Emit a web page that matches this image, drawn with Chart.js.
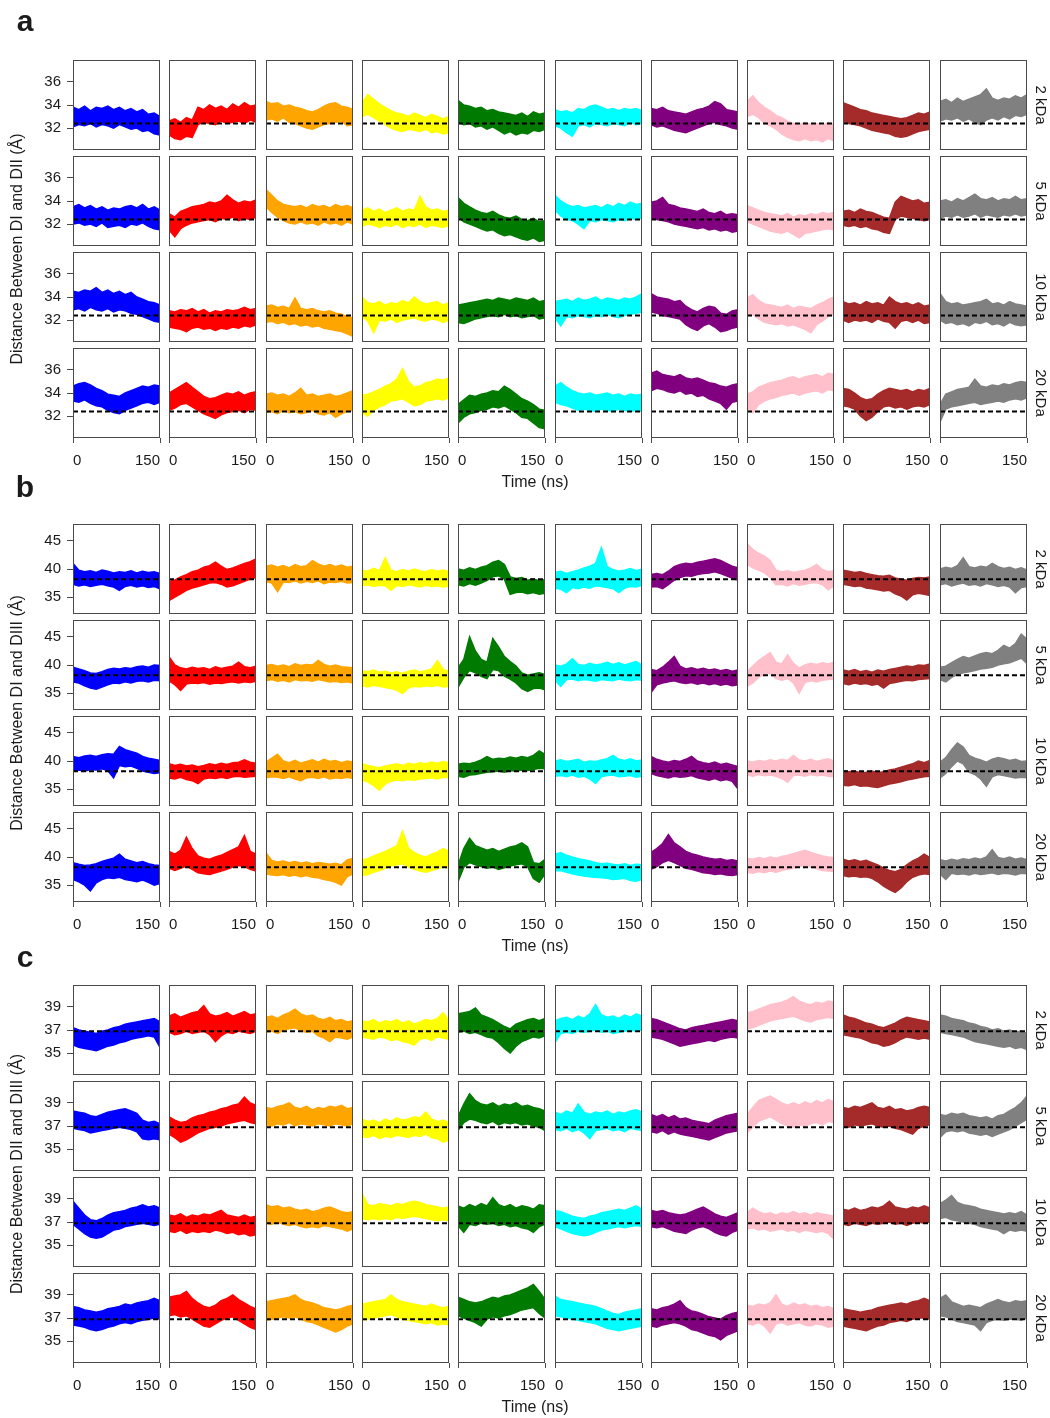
<!DOCTYPE html>
<html>
<head>
<meta charset="utf-8">
<script src="https://cdn.jsdelivr.net/npm/chart.js@4.4.1/dist/chart.umd.min.js"></script>
<style>
  body { margin: 0; width: 1050px; height: 1418px; background: #fff; position: relative; overflow: hidden;
         font-family: "Liberation Sans", Arial, sans-serif; }
  canvas { position: absolute; }
  .lbl { position: absolute; color: #1a1a1a; white-space: nowrap; line-height: 1; }
</style>
</head>
<body>
<script>
const FONT = '"Liberation Sans", Arial, sans-serif';

// ---- data ----
// each trace: 16 time bins over 0..150 ns, stored as [max0, min0, max1, min1, ...]
const seriesColors = ["#0000ff", "#ff0000", "#ffa500", "#ffff00", "#007a00",
                      "#00ffff", "#800080", "#ffc0cb", "#a52a2a", "#808080"];
const rowLabels = ["2 kDa", "5 kDa", "10 kDa", "20 kDa"];
const xTicks = [0, 150];

const aYTicks = [32, 34, 36];
const bYTicks = [35, 40, 45];
const cYTicks = [35, 37, 39];
const aRef = 32.4, bRef = 38.2, cRef = 36.9;

// panel a: distance DI-DII
const a2kDa = [
  [33.8,32.1,33.6,32.3,33.9,32.2,33.5,32.4,33.8,32.1,33.7,32.3,33.9,32.2,33.6,32.0,33.8,32.3,33.5,32.1,33.7,31.9,33.4,32.0,33.6,31.7,33.2,31.8,33.3,31.5,33.0,31.4],
  [32.6,31.4,32.8,31.1,32.5,31.0,32.9,31.3,32.7,31.2,33.8,32.3,33.6,32.5,34.0,32.4,33.7,32.3,33.9,32.6,33.6,32.4,34.1,32.5,33.8,32.6,34.2,32.4,33.9,32.7,34.0,32.5],
  [34.3,32.7,34.1,32.8,34.2,32.6,33.9,32.9,34.0,32.5,33.8,32.4,33.7,32.2,33.5,32.0,33.4,31.9,33.6,32.1,33.9,32.3,34.1,32.4,34.2,32.5,33.9,32.6,33.8,32.2,33.6,32.3],
  [34.2,33.0,34.9,33.2,34.5,32.9,34.1,32.6,33.8,32.3,33.5,32.0,33.3,31.8,33.2,31.7,33.0,31.9,33.3,31.8,33.1,31.7,32.9,31.9,33.2,31.6,33.0,31.7,32.8,31.5,33.0,31.6],
  [34.4,32.5,34.0,32.3,33.9,32.4,33.7,32.1,33.8,32.2,33.5,31.9,33.6,32.1,33.4,31.8,33.3,31.5,33.2,31.7,33.1,31.4,33.3,31.6,33.0,31.5,33.4,31.8,33.2,31.7,33.3,31.9],
  [33.6,32.2,33.4,32.0,33.5,31.6,33.3,31.3,33.7,32.2,33.6,32.3,33.9,32.1,34.0,32.4,33.8,32.3,33.6,32.2,33.7,32.4,33.5,32.3,33.7,32.2,33.6,32.5,33.7,32.3,33.5,32.4],
  [33.7,32.3,33.6,32.1,33.8,32.2,33.5,32.0,33.4,31.8,33.3,31.7,33.2,31.6,33.4,31.8,33.6,32.0,33.7,32.2,33.9,32.4,34.3,32.5,34.1,32.3,33.6,32.2,33.5,32.0,33.4,31.9],
  [34.3,33.0,34.8,33.2,34.2,32.9,33.8,32.4,33.5,32.2,33.1,31.9,32.9,31.5,32.6,31.2,32.4,31.0,32.3,30.9,32.5,31.1,32.3,30.9,32.4,31.0,32.2,30.8,32.5,31.1,32.3,30.9],
  [34.2,32.6,34.0,32.4,33.8,32.3,33.6,32.2,33.5,32.0,33.3,31.8,33.2,31.7,33.1,31.6,33.0,31.5,32.9,31.3,32.8,31.2,32.9,31.3,33.1,31.5,33.3,31.7,33.2,31.8,33.4,31.9],
  [34.3,32.6,34.5,32.8,34.2,32.7,34.6,32.9,34.3,32.6,34.5,32.8,34.7,32.5,34.9,32.3,35.4,32.7,34.6,32.9,34.4,32.7,34.6,33.0,34.5,32.8,34.8,33.1,34.6,33.0,34.9,33.2]
];
const a5kDa = [
  [33.5,32.0,33.7,32.1,33.4,31.9,33.6,32.0,33.3,31.8,33.5,32.1,33.2,31.7,33.4,31.8,33.3,31.9,33.5,31.7,33.6,32.0,33.4,31.9,33.7,32.1,33.3,31.8,33.5,31.6,33.2,31.5],
  [32.9,31.5,32.6,30.9,33.1,31.6,33.3,31.9,33.5,32.1,33.6,32.2,33.7,32.3,33.9,32.4,33.8,32.2,34.0,32.5,34.5,32.4,34.1,32.6,33.8,32.3,34.0,32.5,33.9,32.4,34.1,32.6],
  [35.0,33.5,34.5,33.0,34.0,32.6,33.7,32.3,33.6,32.1,33.5,32.0,33.6,32.2,33.4,32.0,33.7,32.1,33.5,31.9,33.6,32.2,33.4,32.0,33.7,32.1,33.5,31.9,33.6,32.2,33.4,32.0],
  [33.2,31.8,33.4,32.0,33.1,31.9,33.3,31.7,33.0,31.9,33.2,31.8,33.4,32.0,33.1,31.7,33.3,31.9,33.2,31.8,34.4,32.0,33.5,31.7,33.2,31.9,33.3,31.8,33.1,31.7,33.2,31.9],
  [34.3,32.6,33.8,32.2,33.5,32.0,33.2,31.8,33.0,31.6,32.9,31.4,33.1,31.5,32.8,31.2,32.6,31.0,32.5,31.1,32.7,30.9,32.4,30.7,32.3,30.6,32.5,30.8,32.2,30.5,32.3,30.6],
  [34.5,33.2,34.0,32.7,33.7,32.4,33.5,32.3,33.6,32.0,33.4,31.6,33.5,32.3,33.6,32.2,33.4,32.4,33.7,32.3,33.5,32.2,33.8,32.4,33.6,32.3,33.9,32.5,33.7,32.4,33.8,32.5],
  [33.9,32.5,34.0,32.4,34.3,32.3,33.7,32.2,33.6,32.0,33.4,31.9,33.3,31.8,33.2,31.7,33.1,31.6,33.3,31.7,33.0,31.5,32.9,31.6,33.1,31.4,32.8,31.5,32.9,31.3,32.8,31.4],
  [33.6,32.2,33.4,32.0,33.2,31.8,33.0,31.6,32.9,31.4,32.8,31.3,32.7,31.2,32.9,31.4,32.6,31.1,32.8,30.8,32.7,31.2,32.9,31.3,32.8,31.4,33.0,31.5,32.9,31.6,33.0,31.5],
  [33.1,31.9,33.2,31.8,33.0,31.9,33.3,31.7,33.1,31.8,33.0,31.6,32.8,31.5,32.6,31.3,32.5,31.2,33.9,32.4,34.4,32.7,34.2,32.6,34.0,32.5,34.1,32.4,33.8,32.3,33.9,32.4],
  [34.0,32.5,34.1,32.7,33.9,32.6,34.2,32.8,34.0,32.6,34.3,32.7,34.6,32.9,34.2,32.6,34.1,32.8,34.3,32.7,34.0,32.6,34.2,32.8,34.1,32.7,34.4,32.9,34.1,32.7,34.2,32.8]
];
const a10kDa = [
  [34.5,32.9,34.4,33.0,34.6,32.8,34.5,33.1,34.8,32.9,34.4,32.8,34.6,33.0,34.3,32.7,34.5,32.9,34.2,32.8,34.4,32.6,34.0,32.5,33.8,32.3,33.6,32.1,33.5,31.9,33.3,31.8],
  [32.8,31.4,32.7,31.3,32.9,31.2,32.8,31.0,33.0,31.3,32.7,31.4,32.9,31.2,32.6,31.3,32.8,31.1,32.7,31.3,32.9,31.2,32.8,31.4,32.9,31.3,33.1,31.5,32.9,31.4,33.0,31.6],
  [33.2,31.8,33.3,31.9,33.1,31.7,33.2,31.8,33.0,31.6,33.9,31.7,33.0,31.5,32.9,31.6,33.0,31.4,32.8,31.5,32.7,31.3,32.8,31.2,32.6,31.1,32.5,31.0,32.3,30.8,32.2,30.6],
  [34.0,32.3,33.5,31.9,33.4,30.9,33.6,32.0,33.3,31.9,33.5,32.1,33.4,31.8,33.7,32.0,33.5,32.1,34.0,32.2,33.6,32.0,33.4,31.9,33.5,32.1,33.6,32.0,33.3,31.8,33.5,32.0],
  [33.3,31.8,33.4,31.7,33.5,31.9,33.6,32.1,33.7,32.2,33.8,32.3,33.7,32.4,33.9,32.3,33.8,32.5,33.7,32.3,33.9,32.4,33.8,32.2,33.7,32.3,33.9,32.4,33.6,32.1,33.7,32.2],
  [33.6,32.2,33.7,31.5,33.8,32.3,33.6,32.2,33.9,32.4,33.7,32.3,33.8,32.2,34.0,32.4,33.7,32.3,33.9,32.5,33.8,32.3,33.7,32.2,33.9,32.4,33.8,32.5,34.0,32.6,34.3,32.7],
  [34.3,32.7,34.0,32.6,33.9,32.4,33.8,32.3,33.6,32.2,33.7,32.1,33.2,31.6,32.9,31.3,32.7,31.1,33.0,31.5,33.2,31.7,33.1,31.4,32.6,31.0,32.5,31.1,32.8,31.3,32.9,31.4],
  [33.9,32.4,34.2,32.5,33.7,32.1,33.4,31.8,33.3,31.7,33.2,31.6,33.1,31.7,33.3,31.5,33.0,31.6,33.2,31.4,33.1,31.2,33.0,30.9,33.3,31.6,33.5,31.9,33.8,32.3,34.0,32.5],
  [33.6,32.0,33.4,31.8,33.5,32.0,33.3,31.9,33.6,32.0,33.4,31.8,33.5,32.1,33.3,31.9,34.0,31.8,33.6,31.3,33.4,31.9,33.5,32.0,33.3,31.8,33.5,32.0,33.2,31.7,33.3,31.8],
  [34.3,32.0,33.6,31.7,33.4,31.8,33.5,31.6,33.3,31.7,33.4,31.5,33.5,31.8,33.6,31.7,33.8,31.9,33.4,31.6,33.5,31.7,33.3,31.5,33.6,31.8,33.4,31.6,33.3,31.5,33.2,31.6]
];
const a20kDa = [
  [34.6,33.3,34.8,33.2,34.9,33.4,34.7,33.1,34.4,32.9,34.2,32.8,33.9,32.5,33.8,32.3,33.7,32.2,34.0,32.5,34.2,32.7,34.4,32.9,34.6,33.1,34.5,33.2,34.7,33.0,34.6,33.2],
  [34.0,32.5,34.3,32.7,34.6,33.0,34.9,33.1,34.5,32.8,34.1,32.5,33.7,32.2,33.5,32.0,33.6,31.8,33.8,32.1,34.0,32.3,33.9,32.4,34.1,32.5,33.8,32.3,34.0,32.6,34.1,32.5],
  [33.9,32.3,34.0,32.4,33.8,32.2,33.9,32.5,33.7,32.3,34.0,32.4,34.4,32.2,33.8,32.3,33.9,32.5,33.7,32.2,33.8,32.1,33.9,32.3,33.7,31.9,33.8,32.2,34.0,32.4,34.2,32.5],
  [33.8,32.3,33.9,32.0,34.1,32.5,34.3,32.8,34.6,33.0,34.8,33.3,35.2,33.4,36.1,33.5,35.0,33.2,34.5,32.9,34.6,33.0,34.9,33.3,35.0,33.4,35.2,33.5,35.1,33.4,35.3,33.6],
  [33.0,31.4,33.4,31.9,33.8,32.2,33.7,32.3,33.9,32.5,34.0,32.6,34.2,32.8,34.1,32.7,34.6,32.9,34.3,32.6,33.9,32.3,33.5,31.9,33.3,31.8,33.0,31.4,32.6,31.0,32.5,30.9],
  [34.6,33.2,34.9,33.0,34.5,32.9,34.2,32.7,34.0,32.5,33.9,32.6,34.0,32.5,33.8,32.4,33.9,32.6,34.0,32.5,33.8,32.4,33.9,32.6,33.7,32.5,33.9,32.4,33.8,32.5,33.9,32.4],
  [35.7,34.2,35.9,34.4,35.6,34.3,35.5,34.1,35.4,34.0,35.6,34.2,35.3,33.9,35.2,34.0,35.3,33.7,35.1,33.8,34.9,33.5,34.8,33.3,34.6,33.1,34.5,32.6,34.7,33.2,34.8,33.3],
  [33.9,32.5,34.1,32.3,34.5,33.0,34.7,33.3,34.9,33.5,35.0,33.6,35.1,33.8,35.3,33.9,35.4,34.0,35.2,33.8,35.4,34.0,35.5,34.1,35.6,34.2,35.4,34.0,35.7,34.3,35.6,34.2],
  [34.4,32.9,34.3,32.8,34.0,32.6,33.6,32.0,33.4,31.6,33.5,31.9,33.9,32.4,34.2,32.8,34.4,32.9,34.3,32.7,34.2,32.8,34.3,32.6,34.1,32.8,34.3,32.9,34.2,32.8,34.4,33.0],
  [33.0,31.5,33.9,32.6,34.1,32.8,34.3,32.9,34.4,33.0,34.5,33.1,35.2,33.2,34.6,33.0,34.5,33.1,34.7,33.2,34.6,33.3,34.8,33.2,34.7,33.4,34.9,33.5,35.0,33.4,34.9,33.6]
];

// panel b: distance DI-DIII
const b2kDa = [
  [41.0,37.3,39.8,37.0,39.5,37.2,39.7,36.9,39.4,37.1,39.8,37.3,39.6,37.0,39.3,36.8,39.5,36.2,39.4,36.9,39.7,37.1,39.3,36.8,39.6,37.0,39.4,36.7,39.5,36.9,39.2,36.5],
  [37.8,34.4,38.0,35.0,38.6,35.6,39.0,36.2,39.5,36.6,39.8,36.9,40.3,37.2,40.6,37.5,41.2,37.6,40.5,37.3,39.9,36.8,40.2,37.0,40.6,37.4,41.0,37.8,41.3,38.2,41.8,38.5],
  [40.5,37.8,40.7,37.5,40.3,36.0,40.6,37.7,40.2,37.6,40.8,37.9,40.4,37.5,40.6,37.8,41.5,37.6,40.9,37.9,40.5,37.4,40.8,37.7,40.4,37.6,40.7,37.8,40.3,37.5,40.5,37.6],
  [39.8,37.0,39.6,37.2,40.1,36.9,39.7,37.1,42.0,37.0,39.8,36.2,39.5,37.1,39.9,36.9,39.6,37.2,40.0,37.0,39.7,36.8,39.5,37.1,39.9,36.9,39.6,37.0,39.8,36.8,39.5,37.0],
  [40.0,37.2,39.8,37.0,40.2,37.4,39.9,37.1,40.3,37.5,40.6,38.0,41.2,38.6,41.5,38.8,40.8,38.2,38.6,35.5,38.3,35.8,38.5,35.9,38.0,35.6,38.2,35.8,37.9,35.5,38.1,35.7],
  [39.4,36.6,39.6,36.4,39.2,35.8,39.5,36.7,39.8,36.5,40.2,36.8,40.5,36.6,41.0,37.0,43.8,36.9,40.4,36.7,39.9,36.5,39.6,35.8,39.8,36.6,40.1,36.9,39.7,36.8,40.0,37.1],
  [39.0,36.8,39.2,36.9,39.0,36.5,39.6,37.2,40.4,38.0,40.8,38.5,41.0,38.8,40.9,38.7,41.2,39.0,41.4,39.2,41.6,39.3,41.8,39.5,41.5,39.2,41.0,38.8,40.5,38.4,40.2,38.0],
  [44.5,40.8,43.5,40.2,42.8,39.8,42.3,39.3,41.5,38.5,39.8,37.2,39.5,37.3,39.7,37.0,39.4,37.4,39.6,37.1,39.8,37.3,40.2,37.5,40.8,37.6,39.9,37.2,39.5,36.3,39.7,37.0],
  [39.8,37.3,39.6,37.1,39.4,36.9,39.5,37.0,39.2,36.6,39.0,36.5,38.8,36.3,38.7,36.1,38.9,36.2,38.4,35.6,38.2,35.2,38.0,34.5,38.3,35.4,38.5,35.7,38.4,35.5,38.6,35.3],
  [40.0,37.2,40.3,37.4,40.1,37.0,40.6,37.3,42.0,37.5,40.4,37.1,40.2,37.3,40.5,37.0,40.3,37.4,41.0,37.2,40.4,36.9,40.1,37.1,40.3,36.8,39.9,35.8,40.2,36.7,39.8,36.9]
];
const b5kDa = [
  [39.6,37.0,39.3,36.8,39.0,36.3,38.6,35.9,38.5,35.7,38.8,36.1,39.2,36.5,39.4,36.8,39.3,36.7,39.5,37.0,39.4,36.8,39.7,37.1,39.8,37.2,39.6,37.0,40.0,37.3,39.9,37.2],
  [41.5,37.2,40.0,36.5,39.5,35.5,39.3,36.6,39.6,36.8,39.4,36.7,39.5,36.9,39.2,36.6,39.7,36.8,39.4,36.7,39.6,36.9,39.8,37.0,40.5,36.8,39.7,37.0,39.5,36.9,39.8,37.1],
  [39.9,37.2,40.1,37.4,39.8,37.1,40.0,37.3,39.7,37.0,40.2,37.4,39.9,37.2,40.1,37.3,40.0,37.1,40.8,37.4,40.1,37.2,39.8,37.0,40.0,37.1,39.7,36.9,39.6,37.0,39.5,36.8],
  [39.0,36.3,38.8,36.1,39.1,36.4,38.7,36.2,38.9,36.0,38.6,35.8,38.8,35.5,38.5,34.9,38.9,35.9,39.1,36.2,38.8,36.1,39.0,36.3,39.3,36.2,40.8,36.4,39.2,36.1,38.9,36.2],
  [39.5,36.0,41.0,37.8,45.0,39.0,42.5,38.6,41.0,38.0,40.5,37.6,44.7,39.2,43.2,39.0,41.5,38.0,40.6,37.5,39.8,36.8,38.6,35.8,38.2,35.3,38.4,35.8,38.6,35.9,38.3,35.6],
  [40.0,37.3,39.8,36.2,40.2,37.4,41.1,37.5,40.1,37.2,39.9,37.4,40.3,37.3,40.0,37.1,40.2,37.4,40.5,37.3,40.1,37.2,40.4,37.5,40.0,37.3,40.3,37.2,40.6,37.4,40.0,37.3],
  [39.2,35.1,39.0,36.5,39.6,36.8,40.5,37.0,41.5,37.2,39.8,36.9,39.3,36.7,39.5,36.9,39.2,36.6,39.4,36.8,39.1,36.5,39.3,36.7,39.0,36.4,39.2,36.6,38.9,36.3,39.1,36.5],
  [38.8,36.2,39.8,36.8,40.8,37.8,41.5,38.3,42.2,38.5,40.5,37.6,40.2,37.3,41.8,37.6,40.3,36.8,39.5,35.0,40.0,36.9,40.3,37.2,40.1,37.0,40.4,37.3,40.2,37.4,40.5,37.5],
  [39.1,36.7,38.9,36.5,39.2,36.8,38.8,36.6,39.0,36.7,38.7,36.4,39.1,36.6,38.9,35.9,39.2,36.7,39.4,36.9,39.6,37.1,39.8,37.3,39.7,37.2,40.0,37.4,39.9,37.5,40.2,37.6],
  [39.6,37.4,39.8,37.0,40.4,37.8,41.0,38.3,41.5,38.6,41.2,38.8,41.6,39.0,42.0,39.3,42.2,39.4,42.0,39.6,42.6,40.0,43.5,40.2,43.0,40.4,43.8,40.8,45.5,41.2,44.6,40.3]
];
const b10kDa = [
  [40.8,38.3,40.6,38.4,40.9,38.2,41.0,38.5,40.8,38.4,41.1,38.6,41.3,38.3,41.2,37.0,42.6,39.2,42.0,39.0,41.7,39.1,41.4,38.7,40.8,38.2,40.5,38.0,40.3,37.8,40.1,37.9],
  [39.5,37.0,39.2,36.8,39.4,37.1,39.1,36.7,39.3,36.5,39.0,36.0,39.2,36.8,39.5,37.0,39.3,36.9,39.6,37.1,39.4,36.9,39.7,37.2,39.8,37.3,40.2,37.1,39.8,37.2,39.6,37.3],
  [39.8,37.0,40.5,37.2,41.2,37.1,40.0,36.9,39.7,37.2,40.1,36.8,39.6,36.5,39.9,37.0,40.2,37.1,39.8,36.9,40.3,37.2,39.9,36.8,40.1,37.0,39.7,36.9,40.0,37.1,39.8,36.9],
  [39.5,36.6,39.2,36.3,39.0,35.6,38.8,34.8,39.1,35.9,39.3,36.4,39.5,36.6,39.2,36.5,39.6,36.7,39.4,36.6,39.7,36.8,39.5,36.9,39.8,37.0,39.6,36.8,39.9,37.1,39.7,37.0],
  [39.4,37.3,39.6,37.1,39.5,37.5,39.8,37.6,40.2,37.8,40.8,38.0,40.3,38.1,40.5,38.2,40.4,38.0,40.7,38.3,40.5,38.2,40.8,38.4,40.6,38.3,41.0,38.5,41.8,38.7,41.2,38.6],
  [40.0,37.3,40.2,37.4,39.9,37.2,40.1,37.5,40.3,37.1,39.8,37.3,40.0,36.8,39.9,36.0,40.2,37.2,40.4,37.4,41.0,37.5,40.3,37.2,40.1,37.3,40.4,37.4,40.0,37.1,40.2,37.3],
  [40.8,37.8,40.3,37.4,40.0,37.2,39.8,37.0,40.1,37.3,39.9,37.1,40.3,37.2,40.8,37.4,40.0,37.0,39.7,36.8,39.5,36.6,39.8,36.9,39.4,36.5,39.6,36.7,39.3,36.4,39.0,35.0],
  [40.0,37.5,39.8,37.3,40.1,37.6,39.9,37.4,40.2,37.5,40.0,37.3,40.3,36.9,40.1,36.2,41.0,37.4,40.2,37.5,40.0,37.3,40.3,37.6,39.9,37.4,40.2,37.5,40.4,37.3,40.0,37.2],
  [38.3,35.7,38.1,35.6,38.2,35.8,37.9,35.5,38.0,35.6,38.2,35.4,37.9,35.3,38.1,35.6,38.4,35.9,38.6,36.1,38.9,36.3,39.2,36.6,39.5,36.8,40.0,37.0,39.7,37.2,40.1,37.3],
  [39.8,37.0,40.6,37.8,42.0,39.0,43.2,40.0,42.5,39.5,41.0,38.0,40.5,37.6,40.2,36.8,39.8,35.5,40.3,37.2,40.6,37.6,40.4,37.4,40.1,37.2,40.3,37.0,39.9,37.1,40.0,37.0]
];
const b20kDa = [
  [39.0,36.0,38.7,35.6,38.5,35.0,38.6,34.0,38.8,35.4,39.2,36.0,39.5,36.3,39.8,36.2,40.5,36.4,39.6,36.0,39.3,35.8,39.0,35.6,39.2,35.9,38.8,35.5,38.6,35.0,38.5,35.3],
  [41.0,38.0,40.5,37.6,41.2,38.0,43.5,38.4,41.5,37.8,40.2,37.2,39.8,37.0,39.6,36.9,40.0,37.2,40.3,37.5,40.8,37.8,41.3,38.2,41.8,38.5,43.8,38.3,41.0,37.8,40.5,37.5],
  [40.7,37.0,39.4,36.8,39.1,36.7,39.3,36.9,39.0,36.6,39.2,36.8,38.9,36.5,39.1,36.7,38.8,36.4,39.0,36.3,38.9,36.0,38.7,35.8,38.9,35.5,38.6,35.0,39.5,36.5,39.8,37.0],
  [39.5,36.7,39.7,36.9,40.2,37.3,40.6,37.6,41.0,38.0,41.5,38.4,42.0,38.6,44.6,38.8,41.6,38.2,40.8,37.8,40.3,37.5,40.0,37.3,40.5,37.6,40.9,37.9,41.5,38.2,41.0,38.0],
  [38.5,35.6,41.5,38.2,43.3,39.0,42.0,38.6,41.6,38.3,41.2,38.0,41.5,38.2,41.0,37.8,41.4,38.1,41.8,38.4,42.0,38.6,42.5,38.8,41.8,38.3,39.0,36.2,38.8,35.5,39.6,37.0],
  [40.5,37.5,40.8,37.6,40.3,37.3,40.0,37.0,39.7,36.8,39.5,36.6,39.3,36.5,39.0,36.4,38.8,36.3,38.9,36.2,38.7,36.0,38.6,36.1,38.8,36.2,38.5,35.8,38.7,35.7,38.6,36.0],
  [40.8,37.8,41.5,38.3,42.4,39.0,44.0,39.4,42.5,39.0,41.8,38.5,41.0,38.0,40.6,37.8,40.3,37.5,40.0,37.2,39.8,37.1,39.6,36.9,39.7,37.0,39.4,36.8,39.5,36.7,39.3,36.9],
  [39.8,37.3,39.6,37.1,39.9,37.4,39.7,37.2,40.0,37.5,39.8,37.3,40.1,37.6,40.3,37.8,40.6,38.0,40.9,38.3,41.2,38.5,40.8,38.2,40.5,37.9,40.2,37.6,40.0,37.5,39.9,37.4],
  [39.6,36.7,39.3,36.5,39.5,36.6,39.2,36.4,39.4,36.5,39.0,36.2,38.6,35.6,38.0,34.8,37.6,34.2,37.4,33.7,37.8,34.5,38.6,35.6,39.3,36.4,39.8,36.8,40.5,37.0,39.9,36.9],
  [39.5,37.0,39.3,36.0,39.6,37.1,39.4,36.9,39.7,37.0,39.5,36.8,39.8,37.1,39.6,36.9,40.0,37.0,41.3,37.2,39.9,36.9,39.7,37.1,40.0,37.0,39.6,36.8,39.8,37.1,39.5,37.0]
];

// panel c: distance DII-DIII
const c2kDa = [
  [37.2,35.7,37.0,35.5,36.9,35.4,36.8,35.3,36.7,35.2,36.9,35.4,37.0,35.6,37.2,35.7,37.3,35.9,37.5,36.0,37.6,36.2,37.7,36.3,37.8,36.4,37.9,36.5,38.0,36.4,37.7,35.5],
  [38.2,36.8,38.4,36.6,38.1,36.7,38.3,36.9,38.5,36.7,38.6,36.8,39.1,36.9,38.4,36.6,38.2,36.0,38.3,36.5,38.5,36.8,38.2,36.7,38.4,36.9,38.6,36.8,38.3,36.7,38.4,36.9],
  [38.1,36.8,38.2,36.9,38.0,36.7,38.3,37.0,38.5,37.1,38.8,37.2,38.4,36.9,38.2,36.8,38.3,36.9,38.0,36.5,37.9,36.3,38.1,36.0,37.8,36.4,37.9,36.3,37.7,36.2,37.8,36.4],
  [37.8,36.4,37.7,36.3,37.9,36.2,37.6,36.4,37.8,36.3,37.7,36.1,37.9,36.2,37.6,36.0,37.8,35.9,37.5,35.7,37.7,36.2,37.9,36.3,37.8,36.1,38.0,36.4,38.5,36.3,37.8,36.2],
  [38.4,36.8,38.5,36.9,38.6,36.7,38.9,36.8,38.3,36.6,38.1,36.4,37.9,36.3,37.6,35.9,37.3,35.4,37.1,35.0,37.5,35.6,37.7,36.0,37.9,36.2,38.0,36.4,37.8,36.3,38.0,36.5],
  [37.8,35.9,38.0,36.7,38.1,36.8,37.9,36.7,38.2,36.9,38.0,36.8,38.4,36.9,39.2,37.0,38.3,36.8,38.1,36.9,38.2,36.7,38.0,36.8,38.3,36.9,38.1,37.0,38.4,36.9,38.2,37.0],
  [38.0,36.4,37.9,36.3,37.7,36.2,37.5,36.0,37.3,35.8,37.1,35.6,37.0,35.7,37.2,35.8,37.3,35.9,37.4,36.0,37.5,36.1,37.6,36.0,37.7,36.2,37.8,36.3,37.9,36.4,37.8,36.3],
  [38.5,37.1,38.6,37.2,38.8,37.4,39.0,37.6,39.2,37.8,39.3,37.9,39.4,38.0,39.6,38.1,39.9,38.2,39.5,38.0,39.3,37.8,39.2,37.7,39.4,37.9,39.3,38.0,39.5,38.1,39.4,38.0],
  [38.3,36.6,38.1,36.5,38.0,36.4,37.8,36.3,37.6,36.1,37.5,35.9,37.3,35.8,37.2,35.6,37.4,35.7,37.6,35.9,37.9,36.2,38.1,36.4,38.0,36.3,37.9,36.2,37.8,36.3,37.7,36.2],
  [38.3,36.8,38.2,36.7,38.0,36.6,37.9,36.5,37.8,36.4,37.6,36.2,37.5,36.0,37.3,35.9,37.2,35.8,37.0,35.7,37.1,35.6,36.9,35.5,37.0,35.6,36.8,35.4,36.9,35.5,36.7,35.3]
];
const c5kDa = [
  [38.3,36.8,38.2,36.7,38.1,36.6,37.9,36.4,37.8,36.5,38.0,36.6,38.2,36.7,38.3,36.8,38.4,36.9,38.5,36.8,38.3,36.7,38.1,36.5,37.5,35.9,37.3,35.8,37.4,35.9,37.2,35.8],
  [37.8,36.3,37.5,36.0,37.3,35.6,37.4,35.8,37.7,36.1,37.9,36.4,38.0,36.6,38.2,36.8,38.3,36.9,38.5,37.0,38.6,37.2,38.8,37.3,38.9,37.4,39.5,37.5,39.0,37.3,38.8,37.2],
  [38.6,37.1,38.5,37.0,38.7,37.2,38.8,37.1,39.0,37.3,38.6,37.0,38.5,37.2,38.7,37.1,38.4,37.0,38.6,37.2,38.5,37.1,38.7,37.0,38.6,37.2,38.8,37.1,38.5,37.0,38.6,37.2],
  [37.6,36.1,37.4,36.0,37.5,36.2,37.3,35.9,37.6,36.1,37.4,36.0,37.7,36.2,37.5,36.1,37.6,36.0,37.8,36.2,37.7,36.1,38.2,36.3,37.6,36.0,37.4,35.9,37.5,35.6,37.3,35.8],
  [37.8,36.6,38.9,37.3,39.8,37.6,39.2,37.5,38.9,37.3,38.8,37.2,39.0,37.4,38.7,37.1,38.9,37.3,38.8,37.2,39.0,37.3,38.7,37.1,38.8,37.2,38.6,37.0,38.5,36.9,38.3,36.6],
  [38.2,36.7,38.0,36.6,38.3,36.8,38.1,36.5,38.9,36.7,38.2,36.4,38.0,35.9,38.2,36.6,38.1,36.7,38.3,36.8,38.0,36.6,38.2,36.7,38.1,36.5,38.3,36.8,38.4,36.7,38.2,36.6],
  [38.0,36.5,37.8,36.4,38.0,36.6,37.7,36.3,37.9,36.5,37.6,36.3,37.7,36.2,37.5,36.1,37.4,36.0,37.3,35.9,37.2,35.8,37.5,36.0,37.7,36.2,37.9,36.4,38.0,36.5,38.1,36.6],
  [38.0,36.4,38.6,36.9,39.2,37.4,39.4,37.6,39.6,37.8,39.3,37.5,39.0,37.2,38.8,37.0,39.0,36.9,38.8,37.1,39.1,37.0,38.9,37.2,39.2,37.3,39.0,37.1,39.3,37.4,39.1,37.3],
  [38.6,37.0,38.5,36.9,38.7,37.1,38.6,37.0,38.8,37.1,39.0,37.2,38.6,37.0,38.5,36.9,38.7,37.0,38.4,36.8,38.5,36.7,38.3,36.5,38.4,36.3,38.6,36.8,38.7,37.0,38.6,37.1],
  [38.0,36.0,37.9,36.5,38.1,36.6,38.0,36.5,38.1,36.6,37.9,36.4,37.8,36.3,37.7,36.2,37.8,36.3,37.6,36.1,37.9,36.3,38.0,36.5,38.3,36.7,38.6,37.0,39.0,37.3,39.6,37.6]
];
const c10kDa = [
  [38.8,36.8,38.2,36.4,37.6,36.0,37.2,35.7,37.1,35.6,37.3,35.7,37.6,36.0,37.8,36.3,37.9,36.4,38.0,36.6,38.2,36.7,38.3,36.8,38.5,36.9,38.3,36.8,38.4,36.7,38.2,36.8],
  [37.6,36.2,37.5,36.1,37.7,36.3,37.4,36.0,37.6,36.2,37.5,36.1,37.7,36.2,37.6,36.1,37.8,36.3,38.0,36.2,37.6,36.0,37.5,36.1,37.4,35.9,37.6,36.0,37.4,35.8,37.5,35.9],
  [38.5,36.9,38.3,36.8,38.4,37.0,38.2,36.8,38.3,36.7,38.1,36.8,38.0,36.6,38.1,36.5,37.9,36.6,38.0,36.5,38.2,36.7,38.3,36.6,38.1,36.5,37.9,36.4,37.8,36.2,37.9,36.4],
  [39.5,37.3,38.5,37.2,38.4,37.3,38.6,37.2,38.5,37.3,38.4,37.2,38.6,37.4,38.5,37.3,38.7,37.4,38.8,37.5,38.7,37.4,38.5,37.3,38.4,37.2,38.3,37.1,38.2,37.2,38.3,37.1],
  [38.4,36.7,38.2,36.1,38.5,36.8,38.3,36.7,38.6,36.9,38.4,36.8,39.1,36.9,38.5,36.7,38.3,36.8,38.5,36.6,38.2,36.7,38.4,36.5,38.3,36.4,38.1,36.1,38.5,36.6,38.4,36.8],
  [38.0,36.6,37.9,36.4,37.7,36.2,37.5,36.0,37.4,35.9,37.3,35.8,37.5,35.9,37.6,36.1,37.8,36.3,37.9,36.4,38.0,36.5,38.1,36.6,38.0,36.5,38.2,36.6,38.4,36.7,38.1,36.6],
  [38.0,36.6,37.9,36.5,38.0,36.6,37.8,36.4,37.7,36.2,37.6,36.1,37.7,36.0,37.9,36.3,38.1,36.5,38.3,36.6,38.0,36.4,37.7,36.1,37.5,35.9,37.4,35.8,37.6,36.1,37.8,36.3],
  [37.8,36.4,38.2,36.5,37.9,36.3,37.7,36.4,37.8,36.2,37.6,36.3,37.8,36.4,37.7,36.2,37.9,36.3,37.7,36.1,37.8,36.3,37.6,36.2,37.8,36.1,37.7,36.2,37.6,36.0,37.5,35.5],
  [38.1,36.8,38.0,36.7,38.2,36.9,38.0,36.8,38.1,36.7,38.3,36.9,38.2,36.8,38.4,36.9,38.8,37.0,38.3,36.8,38.2,36.9,38.1,36.7,38.3,36.9,38.2,37.0,38.4,36.9,38.2,37.0],
  [38.6,37.3,38.9,37.4,39.3,37.2,38.7,37.1,38.5,37.0,38.4,36.9,38.3,36.8,38.1,36.6,38.0,36.5,37.9,36.4,37.8,36.3,37.7,36.0,37.8,36.3,37.7,36.2,37.9,36.3,37.6,36.2]
];
const c20kDa = [
  [38.0,36.4,37.9,36.3,37.7,36.2,37.6,36.0,37.5,35.9,37.6,36.0,37.8,36.2,37.9,36.3,38.0,36.5,38.2,36.6,38.1,36.5,38.3,36.7,38.4,36.8,38.5,36.9,38.7,37.0,38.5,36.9],
  [38.8,37.2,38.9,37.3,39.0,37.1,39.3,37.2,38.7,36.9,38.3,36.6,38.0,36.3,37.9,36.2,38.1,36.5,38.5,36.8,38.7,37.0,39.0,37.1,38.6,36.8,38.3,36.5,38.0,36.2,37.8,36.0],
  [38.4,36.8,38.5,36.9,38.6,37.0,38.7,37.1,38.8,37.0,39.0,37.1,38.6,36.9,38.4,36.7,38.3,36.6,38.1,36.4,37.9,36.2,37.8,36.0,37.7,35.8,37.8,36.0,38.0,36.3,38.1,36.5],
  [38.2,36.8,38.3,36.9,38.4,37.0,38.5,37.1,38.6,37.2,39.0,37.3,38.6,37.1,38.4,36.9,38.3,36.8,38.2,36.7,38.1,36.6,38.0,36.5,38.2,36.6,38.0,36.4,37.9,36.5,38.0,36.4],
  [38.8,37.2,38.6,37.0,38.4,36.8,38.3,36.6,38.4,36.3,38.6,36.9,38.8,37.1,38.7,37.0,38.9,37.2,39.0,37.3,39.2,37.5,39.4,37.7,39.6,37.8,39.9,37.9,39.3,37.4,38.6,37.0],
  [38.9,37.2,38.6,37.1,38.5,37.0,38.4,36.9,38.3,36.8,38.2,36.7,38.1,36.6,38.0,36.5,37.8,36.3,37.6,36.1,37.4,36.0,37.3,35.9,37.5,36.0,37.6,36.1,37.7,36.2,37.8,36.3],
  [37.8,36.3,37.7,36.2,37.9,36.4,38.0,36.5,38.2,36.6,38.5,36.5,37.9,36.3,37.6,36.0,37.5,35.9,37.3,35.7,37.1,35.5,37.0,35.4,36.9,35.1,37.2,35.5,37.4,35.7,37.5,35.9],
  [38.1,36.5,38.0,36.4,38.2,36.6,38.1,36.3,38.3,35.7,39.0,36.5,38.2,36.6,38.0,36.4,38.3,36.5,38.1,36.6,38.2,36.4,38.0,36.3,38.1,36.5,37.9,36.4,38.0,36.2,37.8,36.3],
  [37.8,36.3,37.7,36.2,37.6,36.1,37.5,36.0,37.6,35.9,37.7,36.1,37.9,36.3,38.0,36.4,38.1,36.6,38.2,36.7,38.3,36.8,38.2,36.7,38.4,36.9,38.5,37.0,38.7,37.0,38.5,36.9],
  [38.7,37.2,39.0,37.1,38.4,36.9,38.2,36.7,38.0,36.6,38.1,36.5,38.0,36.4,37.9,35.9,38.2,36.6,38.4,36.8,38.6,36.9,38.4,36.8,38.3,36.9,38.5,36.9,38.4,36.8,38.5,37.0]
];

// ---- layout ----
const COL_X0 = 73, COL_STEP = 96.3, PLOT_W = 87;
const ROW_STEP = 96, PLOT_H = 90;
const AXIS_W = 50, AXIS_H = 34, PAD_T = 4, PAD_R = 4;

const panels = [
  { letter: "a", letterY: 21,  top: 60,  yMin: 30.1, yMax: 37.9, yTicks: aYTicks, ref: aRef,
    title: "Distance Between DI and DII (Å)",  rows: [a2kDa, a5kDa, a10kDa, a20kDa] },
  { letter: "b", letterY: 487, top: 524, yMin: 32.0, yMax: 48.0, yTicks: bYTicks, ref: bRef,
    title: "Distance Between DI and DIII (Å)", rows: [b2kDa, b5kDa, b10kDa, b20kDa] },
  { letter: "c", letterY: 957, top: 985, yMin: 33.1, yMax: 40.9, yTicks: cYTicks, ref: cRef,
    title: "Distance Between DII and DIII (Å)", rows: [c2kDa, c5kDa, c10kDa, c20kDa] },
];

Chart.defaults.font.family = FONT;

// box around every small plot
const frame = {
  id: "frame",
  afterDraw(chart) {
    const { ctx, chartArea: a } = chart;
    ctx.save();
    ctx.strokeStyle = "#4a4a4a";
    ctx.lineWidth = 1;
    ctx.strokeRect(a.left + 0.5, a.top + 0.5, a.width - 1, a.height - 1);
    ctx.restore();
  }
};

function noPad(s) {
  s.paddingTop = 0; s.paddingBottom = 0; s.paddingLeft = 0; s.paddingRight = 0;
}

function addText(txt, cx, cy, size, opts = {}) {
  const d = document.createElement("div");
  d.className = "lbl";
  d.textContent = txt;
  d.style.left = cx + "px";
  d.style.top = cy + "px";
  d.style.fontSize = size + "px";
  if (opts.bold) d.style.fontWeight = "bold";
  d.style.transform = "translate(-50%,-50%) rotate(" + (opts.rot || 0) + "deg)";
  document.body.appendChild(d);
}

function buildChart(panel, r, c) {
  const plotLeft = Math.round(COL_X0 + c * COL_STEP);
  const plotTop = panel.top + r * ROW_STEP;
  const cv = document.createElement("canvas");
  cv.width = AXIS_W + PLOT_W + PAD_R;
  cv.height = PAD_T + PLOT_H + AXIS_H;
  cv.style.left = (plotLeft - AXIS_W) + "px";
  cv.style.top = (plotTop - PAD_T) + "px";
  cv.style.width = cv.width + "px";
  cv.style.height = cv.height + "px";
  document.body.appendChild(cv);

  const isFirst = c === 0;
  const isBottom = r === 3;
  const vals = panel.rows[r][c];
  const nBins = vals.length / 2;
  const hi = [], lo = [];
  for (let k = 0; k < nBins; k++) {
    const t = k * 150 / (nBins - 1);
    hi.push({ x: t, y: vals[2 * k] });
    lo.push({ x: t, y: vals[2 * k + 1] });
  }
  const col = seriesColors[c];

  new Chart(cv, {
    type: "line",
    data: {
      datasets: [
        { data: [{ x: 0, y: panel.ref }, { x: 150, y: panel.ref }],
          borderColor: "#000", borderWidth: 2, borderDash: [5, 3], pointRadius: 0 },
        { data: hi, borderColor: col, backgroundColor: col, borderWidth: 1.5,
          fill: "+1", pointRadius: 0, tension: 0 },
        { data: lo, borderColor: col, borderWidth: 1.5, fill: false, pointRadius: 0, tension: 0 },
      ],
    },
    options: {
      responsive: false,
      animation: false,
      events: [],
      layout: { padding: { top: PAD_T, right: PAD_R, left: 0, bottom: 0 } },
      plugins: { legend: { display: false }, tooltip: { enabled: false } },
      scales: {
        x: {
          type: "linear", min: 0, max: 150,
          afterBuildTicks: s => { s.ticks = xTicks.map(v => ({ value: v })); },
          afterFit: s => { s.height = AXIS_H; noPad(s); },
          grid: { display: isBottom, drawOnChartArea: false, tickLength: 5, color: "#4a4a4a" },
          border: { display: false },
          ticks: { display: isBottom, autoSkip: false, maxRotation: 0, align: "inner",
                   padding: 9, color: "#1a1a1a", font: { size: 15 } },
        },
        y: {
          type: "linear", min: panel.yMin, max: panel.yMax,
          afterBuildTicks: s => { s.ticks = panel.yTicks.map(v => ({ value: v })); },
          afterFit: s => { s.width = AXIS_W; noPad(s); },
          grid: { display: isFirst, drawOnChartArea: false, tickLength: 6, color: "#4a4a4a" },
          border: { display: false },
          ticks: { display: isFirst, padding: 6, color: "#1a1a1a", font: { size: 15 } },
        },
      },
    },
    plugins: [frame],
  });
}

panels.forEach(panel => {
  for (let r = 0; r < 4; r++) {
    for (let c = 0; c < 10; c++) buildChart(panel, r, c);
    addText(rowLabels[r], 1041, panel.top + r * ROW_STEP + PLOT_H / 2, 15, { rot: 90 });
  }
  const bottom = panel.top + 3 * ROW_STEP + PLOT_H;
  addText(panel.title, 17, (panel.top + bottom) / 2, 16, { rot: -90 });
  addText("Time (ns)", 535, bottom + 44, 16);
  addText(panel.letter, 25, panel.letterY, 30, { bold: true });
});
</script>
</body>
</html>
